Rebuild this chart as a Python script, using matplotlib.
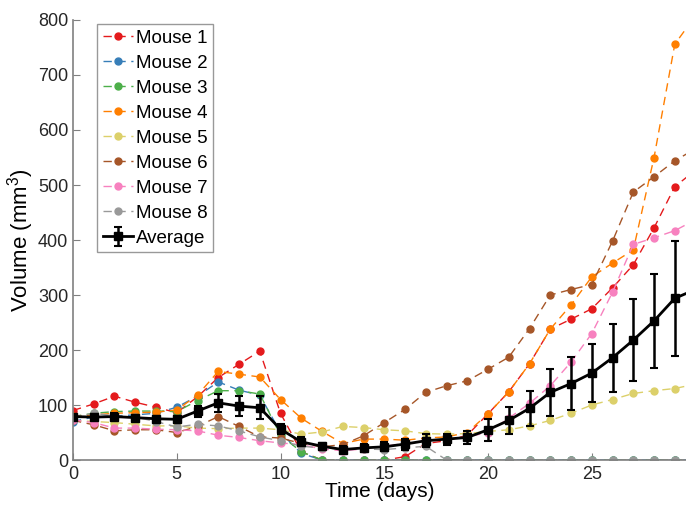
import matplotlib
matplotlib.use('Agg')
import matplotlib.pyplot as plt
import numpy as np

plt.rcParams['font.family'] = ['Liberation Sans', 'DejaVu Sans']
plt.rcParams['mathtext.default'] = 'regular'

# tumour volume per mouse (mm^3), days 0..30
days = list(range(31))
mouse1 = [90, 102, 116, 105, 96, 86, 115, 150, 174, 198, 85, 15, 0, 0, 0, 0, 6, 30, 35, 45,
          84, 124, 175, 238, 256, 275, 313, 355, 422, 497, 527]
mouse2 = [70, 78, 80, 82, 85, 96, 116, 142, 127, 118, 50, 12, 0, 0, 0, 0, 0, 0, 0, 0,
          0, 0, 0, 0, 0, 0, 0, 0, 0, 0, 0]
mouse3 = [79, 85, 88, 89, 89, 88, 108, 126, 126, 120, 45, 15, 0, 0, 0, 0, 0, 0, 0, 0,
          0, 0, 0, 0, 0, 0, 0, 0, 0, 0, 0]
mouse4 = [80, 82, 85, 86, 87, 91, 118, 161, 156, 151, 110, 76, 52, 30, 38, 38, 36, 40, 42, 50,
          84, 124, 175, 238, 282, 333, 358, 382, 550, 756, 808]
mouse5 = [72, 70, 68, 65, 62, 62, 58, 57, 58, 58, 55, 47, 51, 61, 59, 55, 53, 48, 47, 48,
          52, 55, 62, 72, 85, 100, 110, 121, 126, 130, 138]
mouse6 = [72, 64, 53, 55, 55, 50, 61, 79, 61, 42, 40, 30, 24, 28, 44, 68, 92, 123, 135, 144,
          165, 187, 239, 300, 310, 319, 398, 487, 515, 544, 566]
mouse7 = [73, 68, 58, 58, 56, 55, 53, 45, 41, 35, 31, 28, 20, 17, 20, 25, 30, 35, 38, 42,
          50, 76, 103, 135, 178, 230, 305, 392, 404, 417, 437]
mouse8 = [78, 85, 80, 78, 70, 60, 65, 62, 53, 42, 35, 25, 22, 20, 20, 19, 22, 25, 0, 0,
          0, 0, 0, 0, 0, 0, 0, 0, 0, 0, 0]
average = [79, 78, 79, 77, 75, 74, 89, 104, 98, 95, 56, 33, 25, 19, 22, 24, 29, 35, 38, 41,
           55, 72, 94, 123, 139, 158, 186, 218, 253, 294, 310]
avg_err = [5, 5, 6, 5, 5, 6, 10, 16, 18, 21, 9, 8, 6, 6, 7, 8, 10, 12, 10, 12,
           20, 24, 32, 43, 48, 53, 62, 74, 86, 105, 110]

series = [mouse1, mouse2, mouse3, mouse4, mouse5, mouse6, mouse7, mouse8]
names = ['Mouse %d' % (i + 1) for i in range(8)]
colors = ['#e41a1c', '#377eb8', '#4daf4a', '#ff7f00', '#dcd06a', '#a65628', '#f781bf', '#999999']

fig = plt.figure(figsize=(6.86, 5.05), dpi=100)
ax = fig.add_axes([0.1064, 0.0891, 0.8936, 0.8713])

for vals, name, c in zip(series, names, colors):
    ax.plot(days, vals, linestyle=(0, (6, 4)), linewidth=1.0, color=c,
            marker='o', markersize=5, markeredgecolor=c, label=name)

ax.errorbar(days, average, yerr=avg_err, color='black', linewidth=2,
            marker='s', markersize=6, capsize=3, capthick=1.5, elinewidth=1.8,
            label='Average')

ax.set_xlim(0, 29.54)
ax.set_ylim(0, 800)
ax.set_xticks([0, 5, 10, 15, 20, 25])
ax.set_yticks(np.arange(0, 801, 100))
ax.tick_params(direction='in', labelsize=13, color='#808080', length=5,
               labelcolor='#262626')
ax.tick_params(axis='x', pad=4.5)
for side in ['top', 'right']:
    ax.spines[side].set_visible(False)
for side in ['left', 'bottom']:
    ax.spines[side].set_color('#808080')
    ax.spines[side].set_linewidth(1.2)

ax.set_xlabel('Time (days)', fontsize=15, labelpad=-1)
ax.set_ylabel('Volume (mm$^3$)', fontsize=16, labelpad=1)

leg = ax.legend(loc='upper left', bbox_to_anchor=(0.039, 0.991), fontsize=13.5,
                frameon=True, fancybox=False, edgecolor='#808080',
                handlelength=1.65, handletextpad=0.12, borderpad=0.3,
                labelspacing=0.42, borderaxespad=0.0)
leg.get_frame().set_linewidth(1.0)

fig.savefig('out.png', dpi=100)
